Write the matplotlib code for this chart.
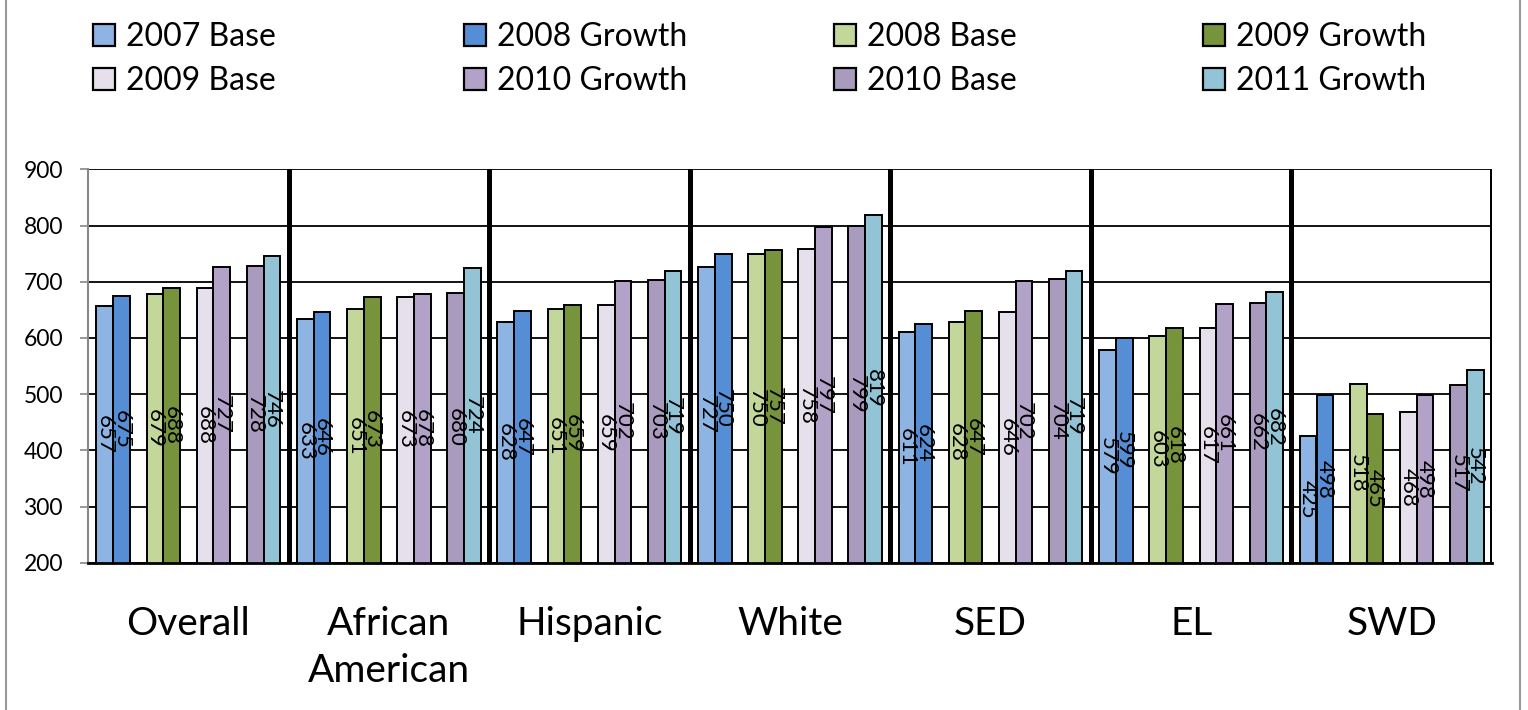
import matplotlib
matplotlib.use("Agg")
import matplotlib.pyplot as plt
from matplotlib.lines import Line2D
import numpy as np

plt.rcParams['font.family'] = ['Lato', 'DejaVu Sans']

categories = ["Overall", "African\nAmerican", "Hispanic", "White", "SED", "EL", "SWD"]
series_names = ["2007 Base", "2008 Growth", "2008 Base", "2009 Growth",
                "2009 Base", "2010 Growth", "2010 Base", "2011 Growth"]
base_2007 = [657, 633, 628, 727, 611, 579, 425]
growth_2008 = [675, 646, 647, 750, 624, 599, 498]
base_2008 = [679, 651, 651, 750, 628, 603, 518]
growth_2009 = [688, 673, 659, 757, 647, 618, 465]
base_2009 = [688, 673, 659, 758, 646, 617, 468]
growth_2010 = [727, 678, 702, 797, 702, 661, 498]
base_2010 = [728, 680, 703, 799, 704, 662, 517]
growth_2011 = [746, 724, 719, 819, 719, 682, 542]
series_values = [base_2007, growth_2008, base_2008, growth_2009,
                 base_2009, growth_2010, base_2010, growth_2011]
colors = ["#8EB4E3", "#558ED5", "#C4D79B", "#77933C",
          "#E6E0EC", "#B3A2C7", "#A99BBD", "#93C4D6"]
y_ticks = [200, 300, 400, 500, 600, 700, 800, 900]
Y_MIN, Y_MAX = 200, 900

W, H = 1528, 710
fig = plt.figure(figsize=(W / 100, H / 100), dpi=100)
ax = fig.add_axes([88 / W, 1 - 562.7 / H, (1492 - 88) / W, (562.7 - 169.3) / H])

n_groups = len(categories)
unit = 1.0 / 12.0
handles = []
for s, (vals, col) in enumerate(zip(series_values, colors)):
    pair, j = divmod(s, 2)
    offs = (0.5 + 3 * pair + j) * unit
    xs = np.arange(n_groups) + offs
    b = ax.bar(xs, vals, width=unit, align='edge', color=col,
               edgecolor='black', linewidth=1.4, zorder=3)
    handles.append(b)
    for x, v in zip(xs, vals):
        ax.text(x + unit / 2, (Y_MIN + v) / 2, str(v), rotation=270,
                ha='center', va='center', fontsize=16, color='black',
                zorder=5, rotation_mode='anchor')

ax.set_xlim(0, n_groups)
ax.set_ylim(Y_MIN, Y_MAX)
ax.set_yticks(y_ticks)
ax.set_xticks(np.arange(n_groups) + 0.5)
ax.set_xticklabels(categories, fontsize=28, linespacing=1.4)
ax.tick_params(axis='x', length=0, pad=31)
ax.tick_params(axis='y', labelsize=16.5, length=6, width=1.2, color='#888888',
               direction='out', pad=12)
ax.yaxis.grid(True, color='black', linewidth=1.3, zorder=1)
ax.set_axisbelow(True)

for k in range(1, n_groups + 1):
    ax.axvline(k, color='black', linewidth=3.6, zorder=4)

ax.spines['top'].set_visible(False)
ax.spines['right'].set_visible(False)
ax.spines['left'].set_color('#888888')
ax.spines['left'].set_linewidth(1.5)
ax.spines['bottom'].set_color('black')
ax.spines['bottom'].set_linewidth(2)
ax.spines['bottom'].set_zorder(6)

# legend: 4 columns, 2 rows (row-wise order)
col_x = [93, 464, 834, 1203]
for c in range(4):
    hs = [handles[c], handles[c + 4]]
    ls = [series_names[c], series_names[c + 4]]
    lg = fig.legend(hs, ls, loc='upper left', bbox_to_anchor=(col_x[c] / W, 1 - 22 / H),
                    frameon=False, fontsize=23, handlelength=0.7, handleheight=0.7,
                    handletextpad=0.32, labelspacing=0.45, borderpad=0, borderaxespad=0)
    for p in lg.get_patches():
        p.set_linewidth(1.6)

fig.add_artist(Line2D([6 / W, 6 / W], [0, 1], color='#999999', lw=1.5, transform=fig.transFigure))
fig.add_artist(Line2D([1520 / W, 1520 / W], [0, 1], color='#999999', lw=1.5, transform=fig.transFigure))

fig.savefig("out.png", dpi=100, facecolor='white')
